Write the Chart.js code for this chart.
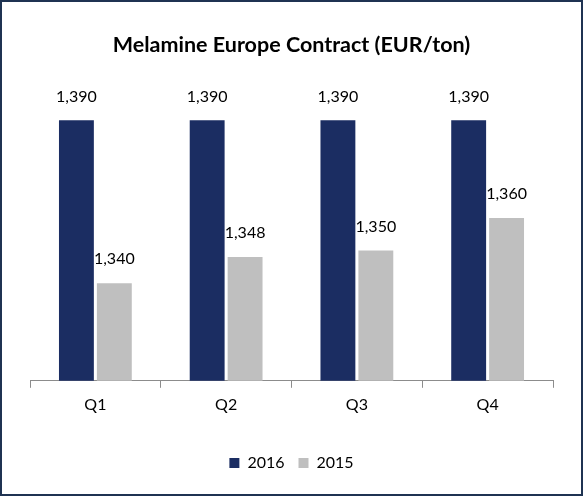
<!DOCTYPE html>
<html lang="en">
<head>
    <meta charset="utf-8" />
    <title>Melamine Europe Contract</title>
    <script src="https://cdn.jsdelivr.net/npm/chart.js"></script>
    <style>
      html, body { margin: 0; padding: 0; background: #fff; }
      .frame {
        position: absolute; left: 0; top: 0;
        width: 583px; height: 496px;
        box-sizing: border-box;
        border: 2px solid #1f3352;
      }
      canvas { display: block; }
    </style>
</head>
<body>
    <div class="frame">
        <canvas id="barChart" width="579" height="492"></canvas>
    </div>

    <script>
        // --- données ---
        const quarters = ["Q1", "Q2", "Q3", "Q4"];
        const values2016 = [1390, 1390, 1390, 1390];
        const values2015 = [1340, 1348, 1350, 1360];

        const FONT = "Lato, 'Open Sans', sans-serif";

        // étiquettes de valeur au-dessus des barres
        const valueLabels = {
            id: "valueLabels",
            afterDatasetsDraw(chart) {
                const ctx = chart.ctx;
                ctx.save();
                ctx.font = "16px " + FONT;
                ctx.fillStyle = "#000";
                ctx.textAlign = "center";
                ctx.textBaseline = "middle";
                chart.data.datasets.forEach((ds, i) => {
                    chart.getDatasetMeta(i).data.forEach((bar, j) => {
                        ctx.fillText(ds.data[j].toLocaleString("en-US"), bar.x, bar.y - 24);
                    });
                });
                ctx.restore();
            }
        };

        const barCtx = document.getElementById("barChart").getContext("2d");
        let barChart = new Chart(barCtx, {
            type: "bar",
            data: {
                labels: quarters,
                datasets: [
                    { label: "2016", data: values2016, backgroundColor: "#1b2d62" },
                    { label: "2015", data: values2015, backgroundColor: "#bfbfbf" }
                ]
            },
            options: {
                responsive: false,
                animation: false,
                categoryPercentage: 0.58,
                barPercentage: 0.92,
                layout: { padding: { top: 20, left: 28, right: 28, bottom: 13 } },
                scales: {
                    x: {
                        grid: {
                            offset: true,
                            drawOnChartArea: false,
                            tickLength: 7,
                            color: "#8c8c8c"
                        },
                        border: { color: "#8c8c8c", width: 1 },
                        ticks: { color: "#000", font: { family: FONT, size: 16 }, padding: 7 },
                        afterFit(scale) { scale.height += 20; }
                    },
                    y: {
                        display: false,
                        min: 1310,
                        max: 1400
                    }
                },
                plugins: {
                    title: {
                        display: true,
                        text: "Melamine Europe Contract (EUR/ton)",
                        color: "#000",
                        font: { family: FONT, size: 21.5, weight: "bold" },
                        padding: { top: 10, bottom: 30 }
                    },
                    legend: {
                        position: "bottom",
                        labels: {
                            color: "#000",
                            font: { family: FONT, size: 16 },
                            boxWidth: 10,
                            boxHeight: 10,
                            padding: 14
                        }
                    },
                    tooltip: { enabled: false }
                }
            },
            plugins: [valueLabels]
        });
    </script>
</body>
</html>
